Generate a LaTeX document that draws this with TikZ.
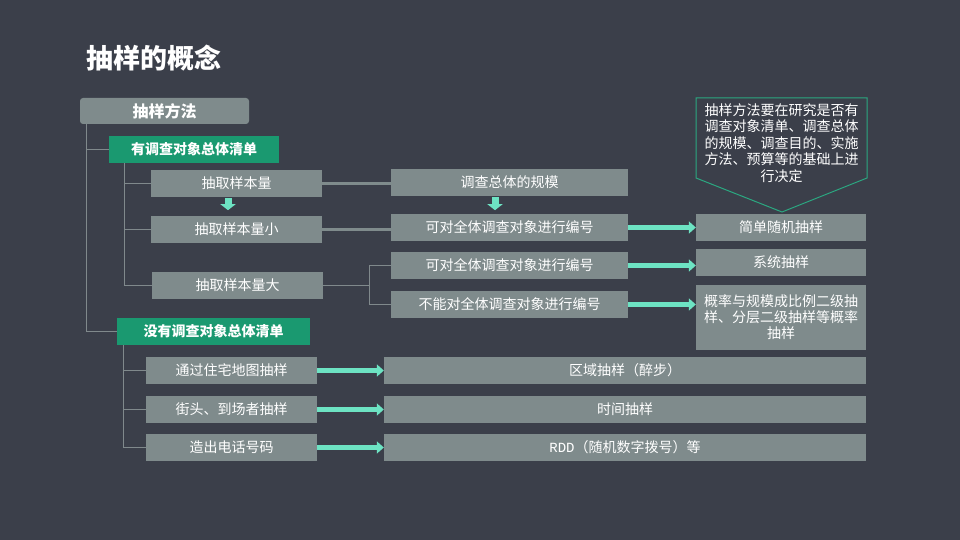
\documentclass[tikz,border=0pt]{standalone}
\usepackage{fontspec}
\setmainfont{Noto Sans CJK SC}
\usetikzlibrary{arrows.meta,calc}
\definecolor{bg}{HTML}{3B3F4A}
\definecolor{boxgray}{HTML}{7F8B8C}
\definecolor{boxgreen}{HTML}{1A9970}
\definecolor{teal}{HTML}{6DE3C3}
\definecolor{linegray}{HTML}{80898C}
\tikzset{
  gbox/.style={fill=boxgray, text=white, inner sep=0pt, font=\fontsize{14}{16}\selectfont, align=center},
  greenbox/.style={fill=boxgreen, text=white, inner sep=0pt, font=\fontsize{14}{16}\selectfont\bfseries, align=center},
  tline/.style={draw=linegray, line width=1.2pt},
  thickline/.style={draw=boxgray, line width=3pt},
  tarrow/.style={draw=teal, line width=5.5pt, -{Triangle[length=7pt,width=12pt]}},
  darrow/.style={draw=teal, line width=7pt, -{Triangle[length=6pt,width=15pt]}},
}
\begin{document}
\begin{tikzpicture}[x=1pt,y=-1pt]
\fill[bg] (0,0) rectangle (960,540);
\useasboundingbox (0,0) rectangle (960,540);
\node[anchor=west, text=white, font=\fontsize{27}{30}\selectfont\bfseries, inner sep=0pt] (title) at (86,58) {抽样的概念};
% top box
\node[fill=boxgray, rounded corners=3pt, text=white, inner sep=0pt, minimum width=169pt, minimum height=26pt, font=\fontsize{16}{18}\selectfont\bfseries] (top) at (164.5,111) {抽样方法};
% group boxes
\node[greenbox, minimum width=170pt, minimum height=27pt] (g1) at (194,149.5) {有调查对象总体清单};
\node[greenbox, minimum width=193pt, minimum height=27pt] (g2) at (213.5,331.5) {没有调查对象总体清单};
\draw[tline] ([xshift=7pt]top.south west) |- (g1.west);
\draw[tline] ([xshift=7pt]top.south west) |- (g2.west);
% group 1 left column
\node[gbox, minimum width=171pt, minimum height=27pt] (b1) at (236.5,183.5) {抽取样本量};
\node[gbox, minimum width=171pt, minimum height=27pt] (b2) at (236.5,229.5) {抽取样本量小};
\node[gbox, minimum width=171pt, minimum height=27pt] (b3) at (237.5,285.5) {抽取样本量大};
\draw[tline] ([xshift=16pt]g1.south west) |- (b1.west);
\draw[tline] ([xshift=16pt]g1.south west) |- (b2.west);
\draw[tline] ([xshift=16pt]g1.south west) |- (b3.west);
% middle column
\node[gbox, minimum width=237pt, minimum height=27pt] (m1) at (509.5,182.5) {调查总体的规模};
\node[gbox, minimum width=237pt, minimum height=27pt] (m2) at (509.5,227.5) {可对全体调查对象进行编号};
\node[gbox, minimum width=237pt, minimum height=27pt] (m3) at (509.5,265.5) {可对全体调查对象进行编号};
\node[gbox, minimum width=237pt, minimum height=27pt] (m4) at (509.5,304.5) {不能对全体调查对象进行编号};
\draw[thickline] (b1.east) -- (b1.east -| m1.west);
\draw[thickline] (b2.east) -- (b2.east -| m2.west);
\draw[tline] (b3.east) -- ++(46,0) coordinate (j) |- (m3.west);
\draw[tline] (j) |- (m4.west);
% small down arrows
\draw[darrow] ($(b1.south)+(-8.5,1)$) -- ($(b1.south)+(-8.5,13)$);
\draw[darrow] ($(m1.south)+(-14.5,1)$) -- ($(m1.south)+(-14.5,14)$);
% right column
\node[gbox, minimum width=170pt, minimum height=27pt] (r1) at (781,227.5) {简单随机抽样};
\node[gbox, minimum width=170pt, minimum height=27pt] (r2) at (781,262.5) {系统抽样};
\node[gbox, minimum width=170pt, minimum height=65pt] (r3) at (781,317.5) {概率与规模成比例二级抽\\样、分层二级抽样等概率\\抽样};
\draw[tarrow] (m2.east) -- (r1.west);
\draw[tarrow] (m3.east) -- (r2.west |- m3.east);
\draw[tarrow] (m4.east) -- (r3.west |- m4.east);
% callout
\draw[draw=boxgreen!80!teal, line width=1pt] (696,98) -- (867,98) -- (867,178) -- (782,212) -- (696,178) -- cycle;
\node[text=white, inner sep=0pt, align=center, font=\fontsize{14}{16.6}\selectfont] (note) at (781.5,143) {抽样方法要在研究是否有\\调查对象清单、调查总体\\的规模、调查目的、实施\\方法、预算等的基础上进\\行决定};
% group 2
\node[gbox, minimum width=171pt, minimum height=27pt] (c1) at (231.5,370.5) {通过住宅地图抽样};
\node[gbox, minimum width=171pt, minimum height=27pt] (c2) at (231.5,409.5) {街头、到场者抽样};
\node[gbox, minimum width=171pt, minimum height=27pt] (c3) at (231.5,447.5) {造出电话号码};
\draw[tline] ([xshift=7pt]g2.south west) |- (c1.west);
\draw[tline] ([xshift=7pt]g2.south west) |- (c2.west);
\draw[tline] ([xshift=7pt]g2.south west) |- (c3.west);
\node[gbox, minimum width=482pt, minimum height=27pt] (d1) at (625,370.5) {区域抽样（醉步）};
\node[gbox, minimum width=482pt, minimum height=27pt] (d2) at (625,409.5) {时间抽样};
\node[gbox, minimum width=482pt, minimum height=27pt] (d3) at (625,447.5) {{\fontspec{Liberation Mono}RDD}（随机数字拨号）等};
\draw[tarrow] (c1.east) -- (d1.west);
\draw[tarrow] (c2.east) -- (d2.west);
\draw[tarrow] (c3.east) -- (d3.west);
\end{tikzpicture}
\end{document}
